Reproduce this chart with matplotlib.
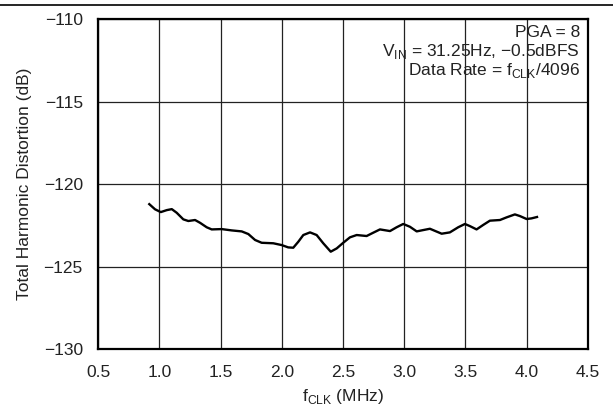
import matplotlib
matplotlib.use('Agg')
import matplotlib.pyplot as plt

plt.rcParams['font.family'] = ['Liberation Sans', 'DejaVu Sans']
plt.rcParams['mathtext.fontset'] = 'custom'
plt.rcParams['mathtext.rm'] = 'Liberation Sans'

# f_CLK (MHz) vs THD (dB)
fclk = [0.911, 0.965, 1.012, 1.061, 1.102, 1.142, 1.196, 1.237, 1.292, 1.333,
        1.387, 1.428, 1.510, 1.591, 1.673, 1.727, 1.782, 1.836, 1.931, 2.000,
        2.053, 2.094, 2.135, 2.176, 2.231, 2.285, 2.339, 2.400, 2.449, 2.502,
        2.557, 2.612, 2.693, 2.747, 2.802, 2.884, 2.938, 2.992, 3.047, 3.102,
        3.155, 3.210, 3.306, 3.373, 3.441, 3.496, 3.537, 3.591, 3.645, 3.700,
        3.782, 3.836, 3.904, 3.945, 4.000, 4.040, 4.094]
thd = [-121.17, -121.53, -121.70, -121.58, -121.52, -121.74, -122.14, -122.24,
       -122.18, -122.35, -122.62, -122.75, -122.73, -122.81, -122.87, -123.03,
       -123.39, -123.56, -123.59, -123.70, -123.84, -123.86, -123.50, -123.09,
       -122.93, -123.09, -123.59, -124.10, -123.90, -123.56, -123.23, -123.09,
       -123.15, -122.95, -122.75, -122.85, -122.62, -122.42, -122.59, -122.87,
       -122.79, -122.71, -123.01, -122.93, -122.62, -122.42, -122.55, -122.75,
       -122.48, -122.22, -122.18, -122.02, -121.84, -121.94, -122.12, -122.08,
       -121.98]

xticks = [0.5, 1.0, 1.5, 2.0, 2.5, 3.0, 3.5, 4.0, 4.5]
yticks = [-130, -125, -120, -115, -110]
notes = ['PGA = 8',
         'V$_{\\mathrm{IN}}$ = 31.25Hz, \u22120.5dBFS',
         'Data Rate = f$_{\\mathrm{CLK}}$/4096']

fig = plt.figure(figsize=(6.13, 4.15), dpi=100)
ax = fig.add_axes([0.160, 0.159, 0.799, 0.795])

ax.plot(fclk, thd, color='black', lw=1.7, solid_joinstyle='round', solid_capstyle='butt')

ax.set_xlim(0.5, 4.5)
ax.set_ylim(-130, -110)
ax.set_xticks(xticks)
ax.set_xticklabels(['%.1f' % v for v in xticks])
ax.set_yticks(yticks)
ax.grid(True, color='#222222', lw=0.9)
ax.tick_params(length=0, labelsize=12.5, labelcolor='#222222')
ax.tick_params(axis='x', pad=11.5)
ax.tick_params(axis='y', pad=11)
for s in ax.spines.values():
    s.set_linewidth(1.6)

ax.set_xlabel('f$_{\\mathrm{CLK}}$ (MHz)', fontsize=12.5, color='#222222', labelpad=5)
ax.set_ylabel('Total Harmonic Distortion (dB)', fontsize=12.5, color='#222222', labelpad=8)

# annotation lines, one text per line
for i, t in enumerate(notes):
    ax.text(0.984, 0.946 - i * 0.0576, t, transform=ax.transAxes, ha='right',
            va='baseline', fontsize=12.5, color='#222222')

# thin rule across the top of the figure
fig.add_artist(plt.Line2D([0, 1], [0.988, 0.988], transform=fig.transFigure, color='black', lw=1.2))

fig.savefig('out.png', dpi=100)
